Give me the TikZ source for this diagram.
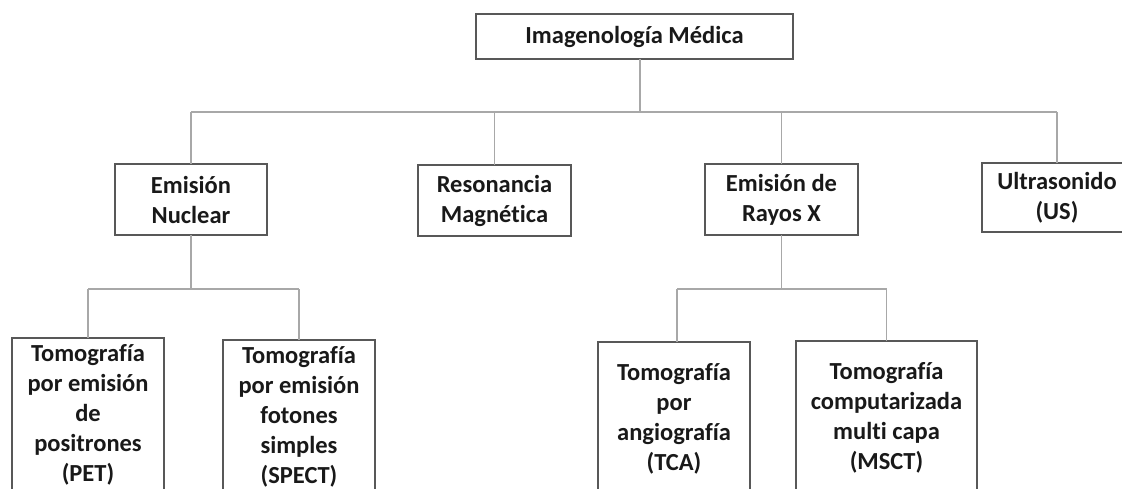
\documentclass[tikz,border=0pt]{standalone}
\usepackage{fontspec}
\setmainfont{Carlito}[Ligatures=NoCommon]
\begin{document}
\begin{tikzpicture}[x=1pt,y=-1pt,
  box/.style={draw=boxgray, line width=1.3pt, fill=white, inner sep=0pt, outer sep=0pt,
    align=center, font=\fontsize{24.5}{30}\selectfont\bfseries, text=black!90},
  conn/.style={draw=conngray, line width=1.5pt}]
\definecolor{boxgray}{HTML}{585858}
\definecolor{conngray}{HTML}{A8A8A8}
\useasboundingbox[fill=white] (0,0) rectangle (1122,488);
\clip (0,0) rectangle (1122,488);
% level 0
\node[box, minimum width=317pt, minimum height=45pt] (top) at (634.5,36.5) {Imagenología Médica};
% level 1
\node[box, minimum width=152pt, minimum height=71pt] (nuc) at (191,199.5) {Emisión\\Nuclear};
\node[box, minimum width=153pt, minimum height=71pt] (res) at (494.5,200.5) {Resonancia\\Magnética};
\node[box, minimum width=153pt, minimum height=71pt] (ray) at (781.5,199.5) {Emisión de\\Rayos X};
\node[box, minimum width=150pt, minimum height=69pt] (us) at (1057,197.5) {Ultrasonido\\(US)};
% level 2
\node[box, minimum width=152pt, minimum height=154pt] (pet) at (88,415) {Tomografía\\por emisión\\de\\positrones\\(PET)};
\node[box, minimum width=152pt, minimum height=154pt] (spect) at (299,417) {Tomografía\\por emisión\\fotones\\simples\\(SPECT)};
\node[box, minimum width=152pt, minimum height=154pt] (tca) at (674,419) {Tomografía\\por\\angiografía\\(TCA)};
\node[box, minimum width=181pt, minimum height=154pt] (msct) at (886.5,418) {Tomografía\\computarizada\\multi capa\\(MSCT)};
% bus coordinates
\coordinate (bus) at (0,112);
\coordinate (nbus) at (0,289);
\coordinate (rbus) at (0,289);
% connectors from top
\draw[conn] ([xshift=5.5pt]top.south) -- ([xshift=5.5pt]top.south |- bus);
\draw[conn] (nuc.north |- bus) -- (us.north |- bus);
\draw[conn] (nuc.north |- bus) -- (nuc.north);
\draw[conn] (res.north |- bus) -- (res.north);
\draw[conn] (ray.north |- bus) -- (ray.north);
\draw[conn] (us.north |- bus) -- (us.north);
% nuclear children
\draw[conn] (nuc.south) -- (nuc.south |- nbus);
\draw[conn] (pet.north |- nbus) -- (spect.north |- nbus);
\draw[conn] (pet.north |- nbus) -- (pet.north);
\draw[conn] (spect.north |- nbus) -- (spect.north);
% rayos x children
\draw[conn] (ray.south) -- (ray.south |- rbus);
\draw[conn] ([xshift=3pt]tca.north |- rbus) -- (msct.north |- rbus);
\draw[conn] ([xshift=3pt]tca.north |- rbus) -- ([xshift=3pt]tca.north);
\draw[conn] (msct.north |- rbus) -- (msct.north);
\end{tikzpicture}
\end{document}
